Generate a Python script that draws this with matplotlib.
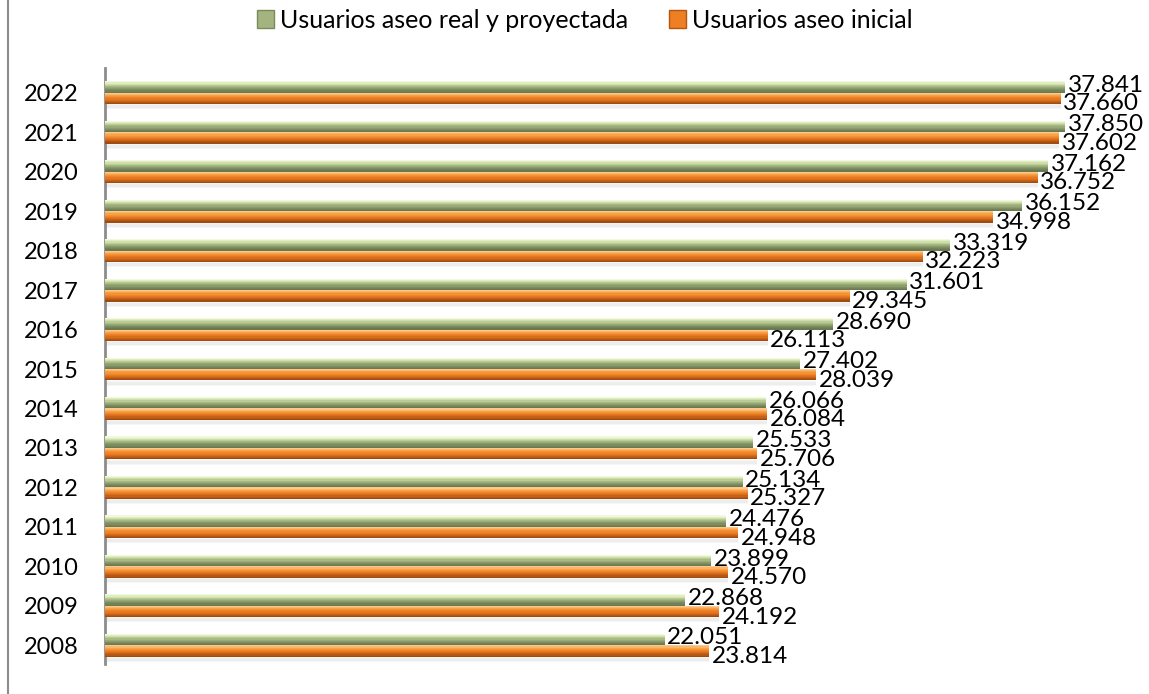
import matplotlib.pyplot as plt
import numpy as np
from matplotlib.colors import LinearSegmentedColormap
from matplotlib.patches import Patch
from matplotlib.lines import Line2D

plt.rcParams['font.family'] = ['Lato', 'DejaVu Sans']

years = ["2008", "2009", "2010", "2011", "2012", "2013", "2014", "2015",
         "2016", "2017", "2018", "2019", "2020", "2021", "2022"]
real_proy = [22051, 22868, 23899, 24476, 25134, 25533, 26066, 27402,
             28690, 31601, 33319, 36152, 37162, 37850, 37841]
inicial = [23814, 24192, 24570, 24948, 25327, 25706, 26084, 28039,
           26113, 29345, 32223, 34998, 36752, 37602, 37660]
series_names = ["Usuarios aseo real y proyectada", "Usuarios aseo inicial"]

green_cm = LinearSegmentedColormap.from_list(
    "g", ["#f1f8dc", "#d2e3ad", "#aebf88", "#93a473", "#7b8b5e", "#6a7950"])
orange_cm = LinearSegmentedColormap.from_list(
    "o", ["#fdc98a", "#f9a44c", "#f28a2b", "#e2741f", "#c55e17", "#a04c10"])

fig = plt.figure(figsize=(11.49, 6.94), dpi=100)
ax = fig.add_axes([105 / 1149, 1 - 665 / 694, 1015 / 1149, 592 / 694])

y = np.arange(len(years))
h = 0.29
nstrip = 10


def gradient_bar(ax, ypos, vals, cmap):
    # bar drawn as thin strips, light on top, dark at the bottom
    sh = h / nstrip
    for k in range(nstrip):
        yc = ypos + h / 2 - sh * (k + 0.5)
        ax.barh(yc, vals, height=sh * 1.05, color=cmap(k / (nstrip - 1)),
                linewidth=0, zorder=3)


# soft shadow under each pair of bars
for k in range(4):
    ax.barh(y - h - 0.03 - 0.025 * k, inicial, height=0.05,
            color="#000000", alpha=0.035, linewidth=0, zorder=2)

gradient_bar(ax, y + h / 2, real_proy, green_cm)
gradient_bar(ax, y - h / 2, inicial, orange_cm)

for i in range(len(years)):
    ax.text(real_proy[i] + 100, y[i] + h / 2 + 0.04, f"{real_proy[i]:,}".replace(",", "."),
            fontsize=17.5, va="center", ha="left", zorder=5)
    ax.text(inicial[i] + 100, y[i] - h / 2 - 0.14, f"{inicial[i]:,}".replace(",", "."),
            fontsize=17.5, va="center", ha="left", zorder=5)

ax.set_xlim(0, 40000)
ax.set_ylim(-0.5, len(years) - 0.5)
ax.set_yticks(y)
ax.set_yticklabels(years, fontsize=17)
ax.set_xticks([])
ax.tick_params(axis="y", length=0, pad=19)
for s in ["top", "right", "bottom"]:
    ax.spines[s].set_visible(False)
ax.spines["left"].set_color("#8c8c8c")
ax.spines["left"].set_linewidth(2)
ax.spines["left"].set_bounds(-0.48, len(years) - 0.38)

handles = [Patch(facecolor="#a3b47e", edgecolor="#7a8a5c"),
           Patch(facecolor="#ee7f22", edgecolor="#b5560f")]
fig.legend(handles, series_names, loc="center", bbox_to_anchor=(0.509, 0.971),
           ncol=2, frameon=False, fontsize=18, handlelength=0.7, handleheight=0.7,
           handletextpad=0.25, columnspacing=1.6)

# chart area border (only its left edge is in view)
fig.add_artist(Line2D([8 / 1149, 8 / 1149], [0, 1], color="#8c8c8c", linewidth=1.5))

fig.savefig("out.png", dpi=100)
